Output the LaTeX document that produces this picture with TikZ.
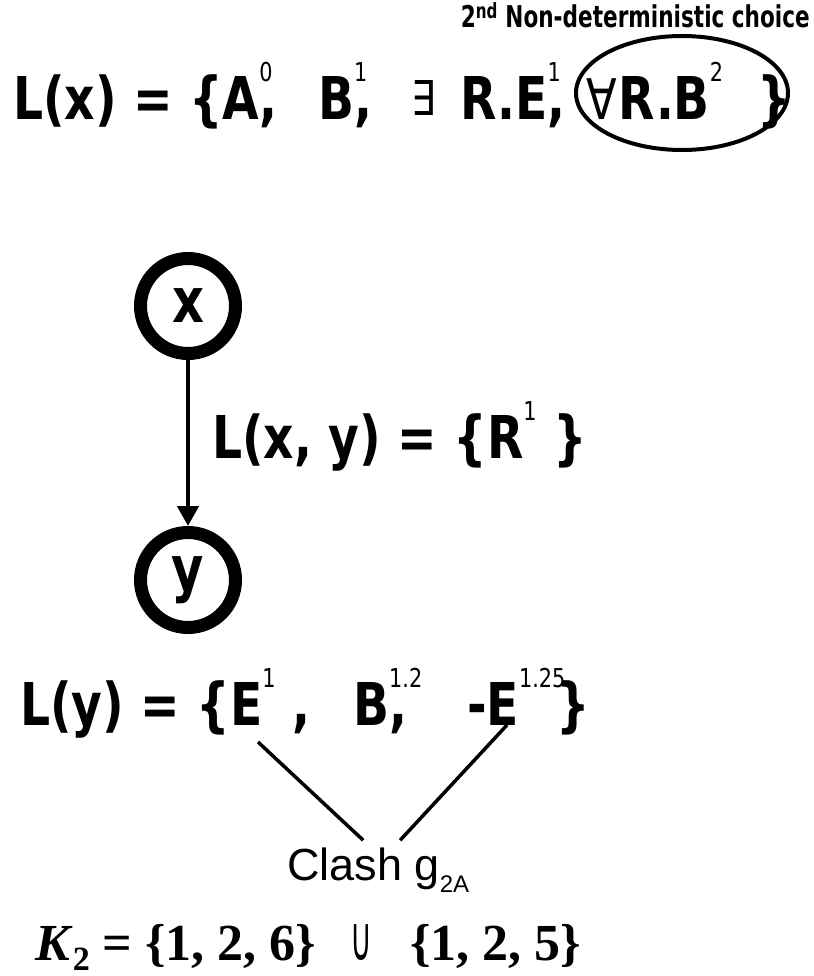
\documentclass[tikz,border=0pt]{standalone}
\usepackage{fontspec}
\usepackage{tikz}
\usetikzlibrary{positioning,shapes.geometric,arrows.meta}
\newfontfamily\labfont{DejaVu Sans}[FakeStretch=0.8]
\newfontfamily\notefont{DejaVu Sans Condensed}[FakeStretch=0.8]
\newfontfamily\clashfont{Liberation Sans}
\newfontfamily\setfont{Liberation Serif}
% raised small index and lowered index
\newcommand\hi[1]{\raisebox{38pt}{\mdseries\fontsize{26}{26}\selectfont #1}}
\newcommand\lo[1]{\raisebox{-12pt}{\fontsize{24}{24}\selectfont #1}}
\newcommand\symb[2]{{\labfont\mdseries\fontsize{#1}{#1}\selectfont #2}}

\begin{document}
\begin{tikzpicture}[x=1pt,y=-1pt,
    lab/.style={font=\labfont\bfseries\fontsize{59}{64}\selectfont,inner sep=0pt,anchor=base west},
    state/.style={circle,draw,line width=13pt,minimum size=95pt,inner sep=0pt,font=\labfont\bfseries\fontsize{62}{64}\selectfont},
    choice/.style={ellipse,draw,line width=4pt,minimum width=212pt,minimum height=114pt,inner sep=0pt},
    clash/.style={line width=3.5pt}]
  \useasboundingbox (0,0) rectangle (813,976);
  \node[font=\notefont\bfseries\fontsize{30}{32}\selectfont,anchor=base east,inner sep=0pt] (note) at (810,28) {2\textsuperscript{nd} Non-deterministic choice};
  % label of x
  \node[lab] (lx) at (13,120) {L(x) = \{A\rlap{\hi{0}},};
  \node[lab] (lxb) at (318,120) {B\rlap{\hi{1}},};
  \node[lab] (lxe) at (411,116) {\symb{48}{∃}};
  \node[lab] (lxr) at (460,120) {R.E\rlap{\hi{1}},};
  \node[choice] (forall) at (682,93) {};
  \node[lab] (lxf) at (586,120) {\symb{56}{∀}\kern2pt R.B\hi{2}};
  \node[lab] (lxbrace) at (757,120) {\}};
  % graph
  \node[state] (x) at (188,306) {x};
  \node[state] (y) at (188,580) {y};
  \draw[-{Triangle[length=20pt,width=21pt]},line width=4.5pt] (x) -- (y);
  \node[lab] (lxy) at (212,458) {L(x, y) = \{R\hi{1} \}};
  % label of y
  \node[lab] (ly) at (20,725) {L(y) = \{E\hi{1} ,};
  \node[lab] (lyb) at (353,725) {B\rlap{\hi{1.2}},};
  \node[lab] (lye) at (467,725) {-E\rlap{\hi{1.25}}};
  \node[lab] (lybrace) at (556,725) {\}};
  \node[font=\clashfont\fontsize{45}{50}\selectfont,inner sep=0pt,anchor=base west] (clash) at (287,880) {Clash g\lo{2A}};
  \coordinate (e1) at (258,742);
  \coordinate (e2) at (507,725);
  \draw[clash] (e1) -- ([xshift=-15pt,yshift=7pt]clash.north);
  \draw[clash] (e2) -- ([xshift=22pt,yshift=7pt]clash.north);
  \node[font=\setfont\bfseries\fontsize{52}{56}\selectfont,inner sep=0pt,anchor=base west] (kset) at (35,960) {\textit{K}\raisebox{-10pt}{\fontsize{34}{34}\selectfont 2} = \{1, 2, 6\}\hspace{34pt}\scalebox{0.6}[1]{\symb{62}{∪}}\hspace{38pt}\{1, 2, 5\}};
\end{tikzpicture}
\end{document}
